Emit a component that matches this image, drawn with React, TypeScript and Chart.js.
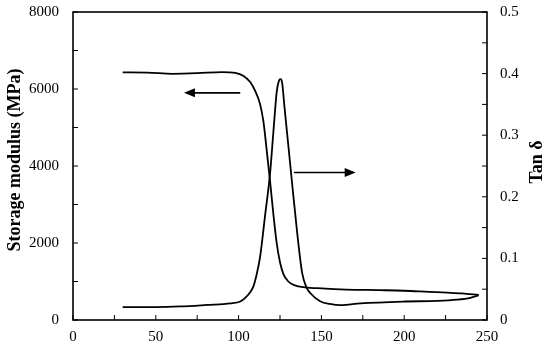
import React, { useEffect, useRef } from "react";
import { Chart, registerables } from "chart.js";

Chart.register(...registerables);

// Temperature (°C) vs storage modulus (MPa)
const storageTemp = [30, 45, 60, 75, 90, 98, 103, 107, 110, 113, 115, 117, 119, 121, 123, 125, 127, 130, 134, 140, 150, 165, 185, 200, 215, 226, 235, 245];
const storageModulus = [6430, 6425, 6395, 6410, 6440, 6420, 6340, 6180, 5950, 5600, 5150, 4400, 3600, 2750, 2000, 1500, 1200, 1000, 900, 850, 820, 790, 775, 760, 730, 710, 690, 650];

// Temperature (°C) vs tan delta
const tanTemp = [30, 50, 65, 81, 95, 101, 104, 107, 109, 111, 113, 116, 119, 121, 123, 124.3, 125.3, 126.3, 127.7, 130.3, 132.3, 135.4, 138.4, 141, 143.5, 149.5, 155, 161.6, 173.7, 200, 220, 232, 240, 245];
const tanDelta = [0.021, 0.021, 0.022, 0.0245, 0.027, 0.03, 0.036, 0.045, 0.055, 0.075, 0.103, 0.17, 0.238, 0.305, 0.37, 0.388, 0.391, 0.385, 0.346, 0.276, 0.222, 0.141, 0.076, 0.053, 0.043, 0.03, 0.026, 0.024, 0.027, 0.03, 0.031, 0.033, 0.036, 0.04];

// Arrows (data coordinates on x / left axis): [y, xStart, xTip]
const arrowLeft = [5900, 101, 67];
const arrowRight = [3830, 133.4, 170.7];

const xTicks = { min: 0, max: 250, step: 25, labelEvery: 50 };
const yTicks = { min: 0, max: 8000, step: 1000, labelEvery: 2000 };
const y2Ticks = { min: 0, max: 0.5, step: 0.05, labelEvery: 0.1 };

const leftTitle = "Storage modulus (MPa)";
const rightTitle = "Tan δ";

const FONT = "'Liberation Serif', 'Times New Roman', serif";

const boxPlugin = {
  id: "boxTicks",
  afterDraw(chart: any) {
    const { ctx, chartArea: a, scales } = chart;
    ctx.save();
    ctx.strokeStyle = "#000";
    ctx.lineWidth = 1;
    const line = (x1: number, y1: number, x2: number, y2: number) => {
      ctx.beginPath();
      ctx.moveTo(x1, y1);
      ctx.lineTo(x2, y2);
      ctx.stroke();
    };
    scales.x.ticks.forEach((t: any) => {
      const p = scales.x.getPixelForValue(t.value);
      line(p, a.bottom, p, a.bottom - 5);
    });
    scales.y.ticks.forEach((t: any) => {
      const p = scales.y.getPixelForValue(t.value);
      line(a.left, p, a.left + 5, p);
    });
    scales.y2.ticks.forEach((t: any) => {
      const p = scales.y2.getPixelForValue(t.value);
      line(a.right, p, a.right - 5, p);
    });
    ctx.lineWidth = 1.6;
    ctx.strokeRect(a.left, a.top, a.right - a.left, a.bottom - a.top);

    const drawArrow = (arr: number[]) => {
      const py = scales.y.getPixelForValue(arr[0]);
      const x0 = scales.x.getPixelForValue(arr[1]);
      const xt = scales.x.getPixelForValue(arr[2]);
      const dir = xt > x0 ? 1 : -1;
      const len = 11;
      const hw = 4.5;
      ctx.lineWidth = 1.6;
      line(x0, py, xt - dir * len * 0.6, py);
      ctx.beginPath();
      ctx.moveTo(xt, py);
      ctx.lineTo(xt - dir * len, py - hw);
      ctx.lineTo(xt - dir * len, py + hw);
      ctx.closePath();
      ctx.fillStyle = "#000";
      ctx.fill();
    };
    drawArrow(arrowLeft);
    drawArrow(arrowRight);

    // axis titles, reading bottom-to-top
    ctx.fillStyle = "#000";
    ctx.font = `bold 18px ${FONT}`;
    ctx.textAlign = "center";
    ctx.textBaseline = "middle";
    const mid = (a.top + a.bottom) / 2;
    const vText = (text: string, x: number, y: number) => {
      ctx.save();
      ctx.translate(x, y);
      ctx.rotate(-Math.PI / 2);
      ctx.fillText(text, 0, 0);
      ctx.restore();
    };
    vText(leftTitle, 15, mid - 6);
    vText(rightTitle, 537, mid - 4);
    ctx.restore();
  },
};

export default function App() {
  const ref = useRef<HTMLCanvasElement | null>(null);
  useEffect(() => {
    if (!ref.current) return;
    const tickFont = { family: FONT, size: 15 };
    const fitY = (w: number) => (s: any) => {
      s.width = w;
      s.paddingTop = 12;
      s.paddingBottom = 0;
    };
    const chart = new Chart(ref.current, {
      type: "line",
      data: {
        datasets: [
          {
            label: "Storage modulus",
            data: storageTemp.map((x, i) => ({ x, y: storageModulus[i] })),
            yAxisID: "y",
            borderColor: "#000",
            borderWidth: 1.8,
            pointRadius: 0,
            cubicInterpolationMode: "monotone",
            fill: false,
          },
          {
            label: "Tan δ",
            data: tanTemp.map((x, i) => ({ x, y: tanDelta[i] })),
            yAxisID: "y2",
            borderColor: "#000",
            borderWidth: 1.8,
            pointRadius: 0,
            cubicInterpolationMode: "monotone",
            fill: false,
          },
        ],
      },
      options: {
        responsive: false,
        animation: false,
        layout: { padding: { top: 12, left: 0, right: 0, bottom: 0 } },
        plugins: { legend: { display: false }, tooltip: { enabled: false } },
        scales: {
          x: {
            type: "linear",
            min: xTicks.min,
            max: xTicks.max,
            grid: { display: false, drawTicks: false },
            border: { display: false },
            afterFit: (s: any) => {
              s.height = 33;
            },
            ticks: {
              stepSize: xTicks.step,
              autoSkip: false,
              maxRotation: 0,
              padding: 8,
              color: "#000",
              font: tickFont,
              callback: (v: any) => (Math.round(v) % xTicks.labelEvery === 0 ? String(v) : ""),
            },
          },
          y: {
            type: "linear",
            position: "left",
            min: yTicks.min,
            max: yTicks.max,
            grid: { display: false, drawTicks: false },
            border: { display: false },
            afterFit: fitY(73),
            title: { display: false },
            ticks: {
              stepSize: yTicks.step,
              autoSkip: false,
              padding: 14,
              color: "#000",
              font: tickFont,
              callback: (v: any) => (Math.round(v) % yTicks.labelEvery === 0 ? String(v) : ""),
            },
          },
          y2: {
            type: "linear",
            position: "right",
            min: y2Ticks.min,
            max: y2Ticks.max,
            grid: { display: false, drawTicks: false },
            border: { display: false },
            afterFit: fitY(63),
            title: { display: false },
            ticks: {
              stepSize: y2Ticks.step,
              autoSkip: false,
              padding: 13,
              color: "#000",
              font: tickFont,
              callback: (v: any) => {
                const r = Math.round(v * 100);
                return r % Math.round(y2Ticks.labelEvery * 100) === 0 ? String(r / 100) : "";
              },
            },
          },
        },
      },
      plugins: [boxPlugin],
    });
    return () => chart.destroy();
  }, []);
  return (
    <div style={{ position: "fixed", left: 0, top: 0, width: 550, height: 353, background: "#fff" }}>
      <canvas ref={ref} width={550} height={353} style={{ display: "block" }} />
    </div>
  );
}
